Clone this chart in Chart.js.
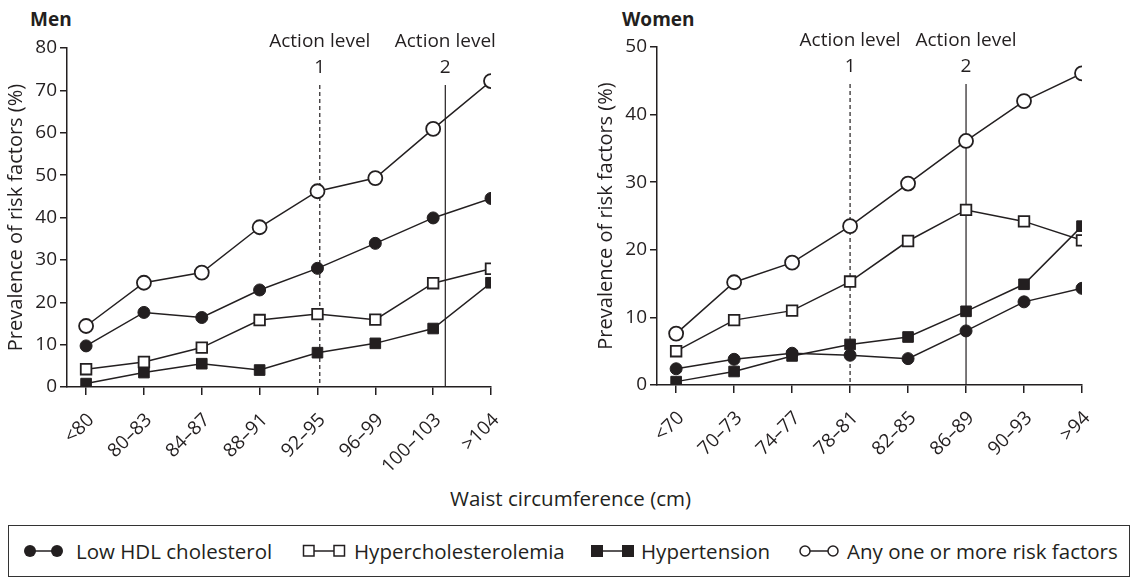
<!DOCTYPE html>
<html>
<head>
<meta charset="utf-8">
<script src="https://cdn.jsdelivr.net/npm/chart.js@4.4.1/dist/chart.umd.min.js"></script>
<style>
  body { margin: 0; background: #fff; width: 1137px; height: 582px; position: relative; overflow: hidden;
         font-family: "Open Sans", sans-serif; color: #231f20; }
  .abs { position: absolute; white-space: nowrap; }
  .ttl { font-weight: bold; font-size: 19px; line-height: 20px; }
  .leg { font-size: 20.5px; line-height: 24px; }
  #legend { left: 8px; top: 525px; width: 1122px; height: 52px; border: 1.5px solid #333; box-sizing: border-box; }
</style>
</head>
<body>
<div class="abs ttl" style="left:30px; top:9px">Men</div>
<div class="abs ttl" style="left:622px; top:9px">Women</div>

<div class="abs" style="left:0; top:0"><canvas id="menChart" width="570" height="470"></canvas></div>
<div class="abs" style="left:590px; top:0"><canvas id="womenChart" width="547" height="470"></canvas></div>

<div class="abs leg" style="left:450px; top:486px">Waist circumference (cm)</div>

<div id="legend" class="abs"></div>
<svg class="abs" style="left:23px; top:544px" width="42" height="14">
  <line x1="7" y1="7" x2="34" y2="7" stroke="#231f20" stroke-width="1.5"/>
  <circle cx="7" cy="7" r="6" fill="#231f20"/><circle cx="34" cy="7" r="6" fill="#231f20"/>
</svg>
<div class="abs leg" style="left:76px; top:539px">Low HDL cholesterol</div>
<svg class="abs" style="left:302px; top:544px" width="44" height="14">
  <line x1="12" y1="7" x2="32" y2="7" stroke="#231f20" stroke-width="1.5"/>
  <rect x="1.5" y="1.5" width="10.5" height="10.5" fill="#fff" stroke="#231f20" stroke-width="1.5"/>
  <rect x="32" y="1.5" width="10.5" height="10.5" fill="#fff" stroke="#231f20" stroke-width="1.5"/>
</svg>
<div class="abs leg" style="left:354px; top:539px">Hypercholesterolemia</div>
<svg class="abs" style="left:590px; top:544px" width="45" height="14">
  <line x1="12" y1="7" x2="32" y2="7" stroke="#231f20" stroke-width="1.5"/>
  <rect x="1" y="1" width="12" height="12" fill="#231f20"/>
  <rect x="32" y="1" width="12" height="12" fill="#231f20"/>
</svg>
<div class="abs leg" style="left:641px; top:539px">Hypertension</div>
<svg class="abs" style="left:799px; top:544px" width="42" height="14">
  <line x1="11" y1="7" x2="29" y2="7" stroke="#231f20" stroke-width="1.5"/>
  <circle cx="6" cy="7" r="5" fill="#fff" stroke="#231f20" stroke-width="1.5"/>
  <circle cx="34" cy="7" r="5" fill="#fff" stroke="#231f20" stroke-width="1.5"/>
</svg>
<div class="abs leg" style="left:847px; top:539px">Any one or more risk factors</div>

<script>
// waist circumference groups
const menLabels = ['<80', '80–83', '84–87', '88–91', '92–95', '96–99', '100–103', '>104'];
const womenLabels = ['<70', '70–73', '74–77', '78–81', '82–85', '86–89', '90–93', '>94'];

// prevalence (%)
const menHDL = [9.7, 17.6, 16.4, 22.9, 28.0, 33.9, 39.9, 44.5];
const menHyperchol = [4.2, 5.9, 9.3, 15.8, 17.2, 15.9, 24.5, 27.9];
const menHypertension = [0.8, 3.4, 5.5, 4.0, 8.1, 10.3, 13.8, 24.6];
const menAny = [14.4, 24.6, 27.0, 37.7, 46.2, 49.3, 60.9, 72.2];

const womenHDL = [2.4, 3.8, 4.7, 4.4, 3.9, 8.0, 12.3, 14.3];
const womenHyperchol = [5.0, 9.6, 11.0, 15.3, 21.3, 25.9, 24.2, 21.4];
const womenHypertension = [0.5, 2.0, 4.3, 6.0, 7.1, 10.9, 14.9, 23.5];
const womenAny = [7.6, 15.2, 18.1, 23.5, 29.8, 36.1, 42.0, 46.1];

// action level positions, in group index units
const menActionLevels = [4.04, 6.21];
const womenActionLevels = [3.0, 5.0];

const ink = '#231f20';
const tickFont = { family: 'Open Sans', size: 19 };

const actionPlugin = {
  id: 'actionLevels',
  beforeDatasetsDraw(chart, args, opts) {
    const { ctx, chartArea, scales: { x } } = chart;
    opts.levels.forEach((v, i) => {
      const px = x.getPixelForValue(v);
      ctx.save();
      ctx.strokeStyle = ink;
      ctx.lineWidth = 1.2;
      ctx.setLineDash(i === 0 ? [4, 3] : []);
      ctx.beginPath();
      ctx.moveTo(px, chartArea.top + 37);
      ctx.lineTo(px, chartArea.bottom);
      ctx.stroke();
      ctx.fillStyle = ink;
      ctx.font = '19px "Open Sans"';
      ctx.textAlign = 'center';
      ctx.textBaseline = 'middle';
      ctx.fillText('Action level', px, chartArea.top - 6);
      ctx.fillText(String(i + 1), px, chartArea.top + 20);
      ctx.restore();
    });
  }
};

function series(vals, style, filled) {
  return {
    data: vals.map((v, i) => ({ x: i, y: v })),
    borderColor: ink,
    borderWidth: 1.5,
    pointStyle: style,
    pointRadius: style === 'rect' ? 7.5 : (filled ? 6 : 7),
    pointBackgroundColor: filled ? ink : '#fff',
    pointBorderColor: ink,
    pointBorderWidth: filled ? 1 : 1.8,
    tension: 0
  };
}

function makeChart(id, labels, sets, yMax, levels, pad, xHeight) {
  new Chart(document.getElementById(id), {
    type: 'line',
    data: { datasets: sets },
    options: {
      responsive: false,
      animation: false,
      layout: { padding: pad },
      plugins: { legend: { display: false }, tooltip: { enabled: false }, actionLevels: { levels: levels } },
      scales: {
        x: {
          type: 'linear', min: -0.33, max: 7,
          afterBuildTicks: s => { s.ticks = labels.map((_, i) => ({ value: i })); },
          ticks: { callback: v => labels[v], minRotation: 45, maxRotation: 45, autoSkip: false,
                   font: tickFont, color: ink, padding: 14, labelOffset: 5 },
          grid: { drawOnChartArea: false, tickLength: 8, color: ink, lineWidth: 1.5 },
          border: { color: ink, width: 1.5 },
          afterFit: s => { s.height = xHeight; s.paddingLeft = 0; s.paddingRight = 0; }
        },
        y: {
          min: 0, max: yMax,
          ticks: { stepSize: 10, font: tickFont, color: ink, padding: 3 },
          grid: { drawOnChartArea: false, tickLength: 7, color: ink, lineWidth: 1.5 },
          border: { color: ink, width: 1.5 },
          title: { display: true, text: 'Prevalence of risk factors (%)', font: { family: 'Open Sans', size: 20 },
                   color: ink, padding: { top: 4, bottom: 0 } },
          afterFit: s => { s.width = 67; }
        }
      }
    },
    plugins: [actionPlugin]
  });
}

makeChart('menChart', menLabels, [
  series(menHDL, 'circle', true),
  series(menHyperchol, 'rect', false),
  series(menHypertension, 'rect', true),
  series(menAny, 'circle', false)
], 80, menActionLevels, { left: 0, top: 48, right: 79, bottom: 0 }, 83);

makeChart('womenChart', womenLabels, [
  series(womenHDL, 'circle', true),
  series(womenHyperchol, 'rect', false),
  series(womenHypertension, 'rect', true),
  series(womenAny, 'circle', false)
], 50, womenActionLevels, { left: 0, top: 47, right: 55, bottom: 0 }, 85);
</script>
</body>
</html>
